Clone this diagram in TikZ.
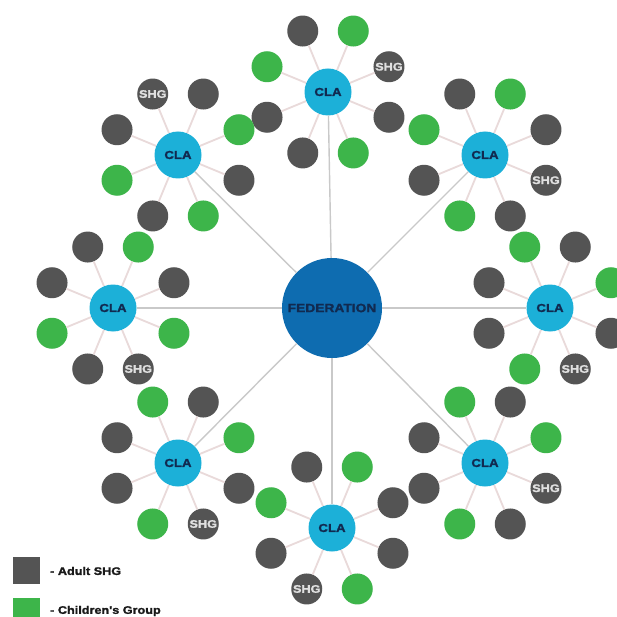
\documentclass[tikz,border=0pt]{standalone}
\usepackage{fontspec}
\setmainfont{Liberation Sans}
\newfontfamily\lblfont[FakeStretch=1.15,FakeBold=1.6]{Liberation Sans}
\usetikzlibrary{calc}
\definecolor{dk}{HTML}{545454}
\definecolor{gr}{HTML}{3DB54A}
\definecolor{clac}{HTML}{1CB0D8}
\definecolor{fedc}{HTML}{0E6CB0}
\definecolor{spokec}{HTML}{C9C9C9}
\definecolor{linkc}{HTML}{E9DADA}
\definecolor{txtc}{HTML}{112A50}
\tikzset{
  satbase/.style={circle, minimum size=31pt, inner sep=0pt, node contents={}},
  dsat/.style={satbase, fill=dk},
  gsat/.style={satbase, fill=gr},
  ssat/.style={satbase, fill=dk, text=white!88!black,
     font=\lblfont\bfseries\fontsize{11}{11}\selectfont, node contents={SHG}},
  cla/.style={circle, fill=clac, minimum size=47pt, inner sep=0pt, text=txtc,
     font=\lblfont\bfseries\fontsize{11.5}{11.5}\selectfont},
  fed/.style={circle, fill=fedc, minimum size=100pt, inner sep=0pt, text=txtc,
     font=\lblfont\bfseries\fontsize{12}{12}\selectfont},
  spoke/.style={draw=spokec, line width=1.4pt},
  linkline/.style={draw=linkc, line width=1.8pt},
  legsq/.style={minimum size=27pt, inner sep=0pt},
  legtxt/.style={anchor=west, inner sep=0pt, text=black!90,
     font=\lblfont\bfseries\fontsize{11}{11}\selectfont}
}
\begin{document}
\begin{tikzpicture}[x=1pt,y=-1pt]
\useasboundingbox (0,0) rectangle (617,617);
\clip (0,0) rectangle (617,617);
\fill[white] (0,0) rectangle (617,617);
\node[fed] (F) at (332,308) {FEDERATION};
\foreach \n/\x/\y/\cols in {
  T/328/92/{s,g,d,g,d,d,g,d},
  TL/178/155/{g,d,s,d,g,d,g,d},
  TR/485/155/{d,g,d,g,d,g,d,s},
  L/113/308/{d,g,d,d,g,d,s,g},
  R/550/308/{g,d,g,d,d,g,s,d},
  BL/178/463/{g,d,g,d,d,g,s,d},
  BR/485/463/{g,d,g,d,d,g,d,s},
  B/332/528/{d,g,d,g,d,s,g,d}} {
  \node[cla] (\n) at (\x,\y) {CLA};
  \draw[spoke] (F) -- (\n);
  \foreach \t [count=\k from 0] in \cols {
    \pgfmathsetmacro\ang{22.5+45*\k}
    \node (\n-\k) at ($(\n)+({66*cos(\ang)},{-66*sin(\ang)})$) [\t sat];
    \draw[linkline] (\n) -- (\n-\k);
  }
}
\node[legsq, fill=dk] (lg1) at (26.5,570.5) {};
\node[legtxt] (lt1) at (50,571) {- Adult SHG};
\node[legsq, fill=gr] (lg2) at (26.5,611.5) {};
\node[legtxt] (lt2) at (50,611) {- Children's Group};
\end{tikzpicture}
\end{document}
